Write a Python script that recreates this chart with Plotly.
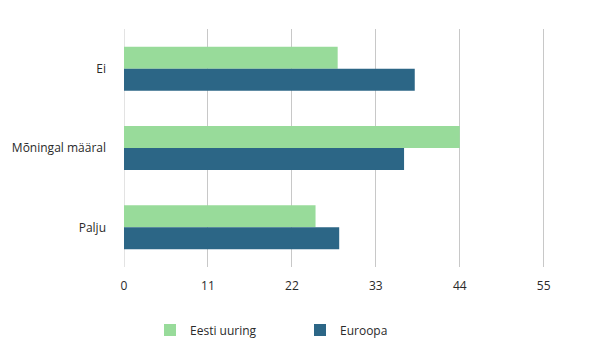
import plotly.graph_objects as go

categories = ["Ei", "Mõningal määral", "Palju"]
eesti_uuring = [28.0, 44.0, 25.1]
euroopa = [38.1, 36.7, 28.2]
x_ticks = [0, 11, 22, 33, 44, 55]

# the page body adds an 8px offset, so the figure is laid out 8px smaller
W, H, OFF = 590, 349, 8

fig = go.Figure()
fig.add_trace(go.Bar(
    y=categories, x=eesti_uuring, name="Eesti uuring", orientation="h",
    marker=dict(color="#98DB9A", line=dict(width=0)),
))
fig.add_trace(go.Bar(
    y=categories, x=euroopa, name="Euroopa", orientation="h",
    marker=dict(color="#2C6686", line=dict(width=0)),
))

fig.update_layout(
    width=W, height=H,
    margin=dict(l=124 - OFF, r=52, t=29 - OFF, b=90, autoexpand=False),
    plot_bgcolor="white", paper_bgcolor="white",
    barmode="group", bargap=0.445, bargroupgap=0,
    font=dict(family="Open Sans, sans-serif", size=12, color="#2a2a2a"),
    xaxis=dict(
        range=[0, 55.3], tickvals=x_ticks, showgrid=True, gridcolor="#c8c8c8", gridwidth=1,
        zeroline=False, showline=False, ticks="", ticklabelstandoff=10, automargin=False,
        tickfont=dict(size=12, color="#2a2a2a"),
    ),
    yaxis=dict(
        categoryorder="array", categoryarray=categories, autorange="reversed",
        showgrid=False, zeroline=False, showline=False, ticks="", automargin=False,
        ticklabelstandoff=17, tickfont=dict(size=12, color="#2a2a2a"),
    ),
    legend=dict(
        orientation="h", x=(150 - OFF) / W, xref="container", xanchor="left",
        y=1 - (330 - OFF) / H, yref="container", yanchor="middle", traceorder="normal",
        font=dict(family="Open Sans, sans-serif", size=12, color="#2a2a2a"),
        entrywidth=105, entrywidthmode="pixels",
    ),
    showlegend=True,
)
fig.add_vline(x=0, line=dict(color="#c8c8c8", width=1), layer="below")

fig.write_html("out.html")
